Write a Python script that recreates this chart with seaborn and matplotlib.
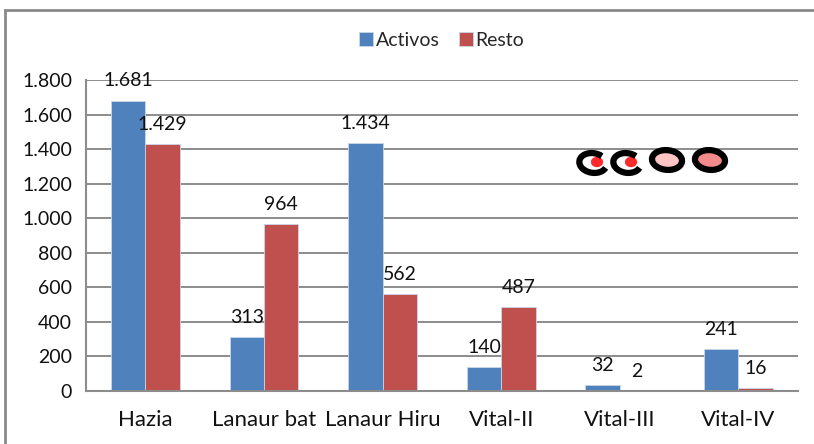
import numpy as np
import pandas as pd
import matplotlib.pyplot as plt
import seaborn as sns
from matplotlib.patches import Rectangle, Ellipse, Arc

# Data
categories = ['Hazia', 'Lanaur bat', 'Lanaur Hiru', 'Vital-II', 'Vital-III', 'Vital-IV']
activos = [1681, 313, 1434, 140, 32, 241]
resto = [1429, 964, 562, 487, 2, 16]
series = ['Activos', 'Resto']
colors = ['#4F81BD', '#C0504D']

df = pd.DataFrame({
    'cat': categories * 2,
    'serie': ['Activos'] * len(categories) + ['Resto'] * len(categories),
    'val': activos + resto,
})

sns.set_style('white')
plt.rcParams['font.family'] = ['Lato', 'DejaVu Sans']

fig = plt.figure(figsize=(8.14, 4.44), dpi=100)
ax = fig.add_axes([0.1057, 0.1194, 0.8743, 0.7004])

sns.barplot(data=df, x='cat', y='val', hue='serie', hue_order=series,
            palette=colors, saturation=1, width=0.58, gap=0, ax=ax,
            legend=True, edgecolor='#c9d6e8', linewidth=0.6)

ax.set_ylim(0, 1800)
ax.set_xlim(-0.5, len(categories) - 0.5)
ax.set_yticks(range(0, 1801, 200))
ax.set_yticklabels([f'{v:,}'.replace(',', '.') for v in range(0, 1801, 200)],
                   fontsize=14, color='#111111')
ax.yaxis.grid(True, color='#8c8c8c', linewidth=1.4)
ax.set_axisbelow(True)

ax.set_xticks(range(len(categories)))
ax.set_xticklabels(categories, fontsize=16, color='#111111')
ax.set_xticks(np.arange(-0.5, len(categories), 1.0), minor=True)
ax.tick_params(axis='x', which='major', length=0, pad=14)
ax.tick_params(axis='x', which='minor', length=8, width=1.5, color='#8c8c8c')
ax.tick_params(axis='y', length=6, width=1.5, color='#8c8c8c', pad=4)

ax.set_xlabel('')
ax.set_ylabel('')
for s in ['top', 'right']:
    ax.spines[s].set_visible(False)
for s in ['left', 'bottom']:
    ax.spines[s].set_color('#8c8c8c')
    ax.spines[s].set_linewidth(1.5)

# data labels
for cont in ax.containers:
    for bar in cont:
        h = bar.get_height()
        ax.annotate(f'{int(h):,}'.replace(',', '.'),
                    (bar.get_x() + bar.get_width() / 2, h),
                    xytext=(0, 8), textcoords='offset points',
                    ha='center', va='bottom', fontsize=14, color='#111111')

leg = ax.legend(loc='center', bbox_to_anchor=(0.5, 1.128), ncol=2,
                frameon=False, fontsize=14, handlelength=0.7, handleheight=0.7,
                handletextpad=0.15, columnspacing=1.0)

# CCOO logo (decoration), pixel coordinates from the top-left corner
def px(x, y):
    return (x / 814, 1 - y / 444)

tf = fig.transFigure
w, hgt = 27 / 814, 20 / 444
for cx in [593, 627]:
    fig.patches.append(Ellipse(px(cx + 4, 162), w * 0.4, hgt * 0.45,
                               transform=tf, color='#ff2a2a', zorder=5))
    fig.patches.append(Arc(px(cx, 163), w, hgt, angle=10, theta1=45,
                           theta2=315, transform=tf, color='black',
                           linewidth=4.5, zorder=6))
for cx, fc in [(667, '#ffc4c4'), (710, '#f58a8a')]:
    fig.patches.append(Ellipse(px(cx, 160), w * 1.1, hgt, angle=12,
                               transform=tf, facecolor=fc, edgecolor='black',
                               linewidth=4.5, zorder=6))

# outer chart border
fig.patches.append(Rectangle((5 / 814, -0.2), 1.2, 1.2 - 10 / 444,
                             transform=tf, fill=False,
                             edgecolor='#8a8a8a', linewidth=2))

fig.savefig('out.png', dpi=100)
